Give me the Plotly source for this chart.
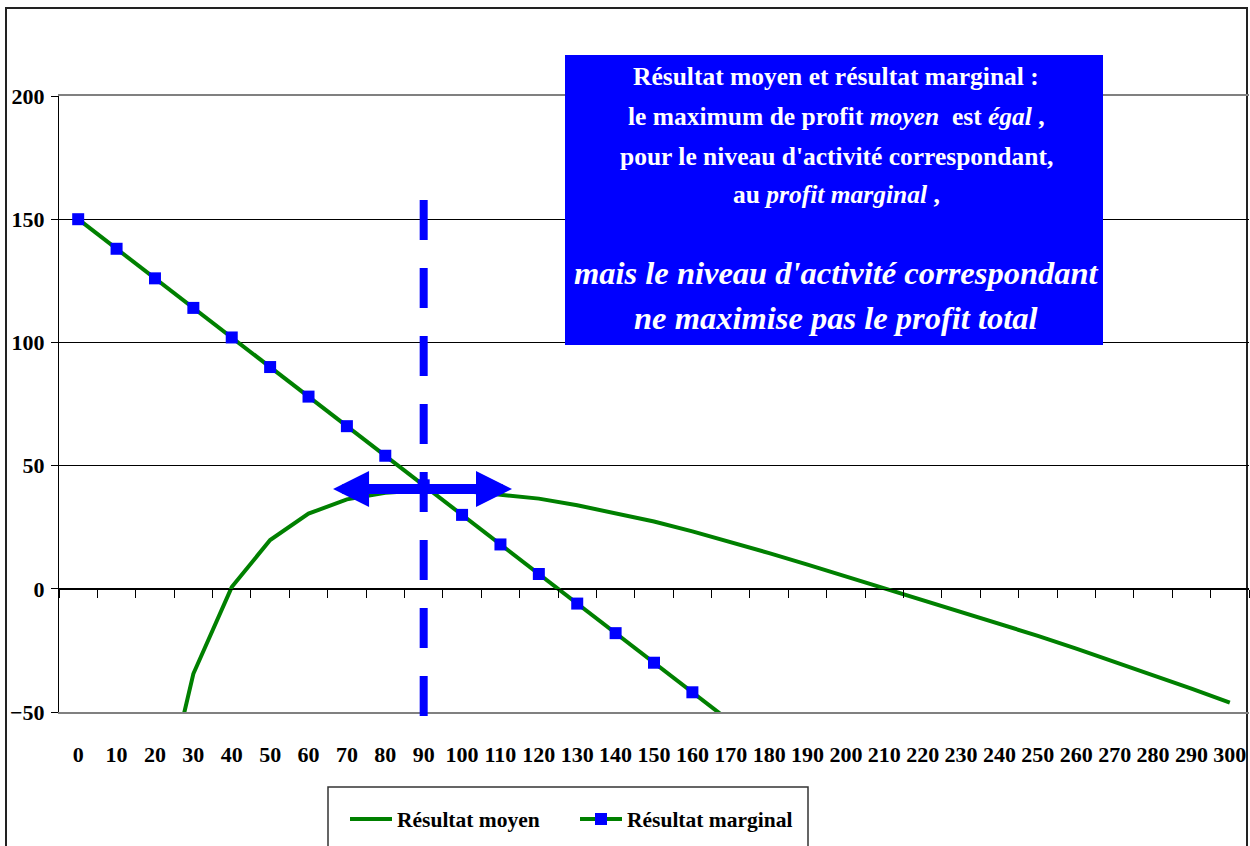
import plotly.graph_objects as go

# ---------------- data ----------------
activity = list(range(0, 310, 10))
tick_labels = [str(v) for v in activity]

avg_x = list(range(20, 310, 10))
avg_vals = [-101, -34.5, 0.7, 19.8, 30.5, 36.3, 39, 40, 39.8, 38.4,
            36.6, 33.9, 30.8, 27.3, 23.3, 19.0, 14.5, 9.8, 5.0, 0.2,
            -4.5, -9.2, -14.1, -19.1, -24.3, -29.6, -35, -40.5, -46.2]

marg_x = list(range(0, 180, 10))
marg_vals = [150, 138, 126, 114, 102, 90, 78, 66, 54, 42,
             30, 18, 6, -6, -18, -30, -42, -54]

y_ticks = [-50, 0, 50, 100, 150, 200]
optimum_q = 90
arrow_span = (66, 113)
arrow_level = 40.5

# ---------------- geometry helpers (pixels -> paper) ----------------
W, H = 1250, 846
PL, PR, PT, PB = 59, 1249, 96, 712


def px(x):
    return (x - PL) / (PR - PL)


def py(y):
    return (PB - y) / (PB - PT)


FONT = "Liberation Serif"
GREEN = "#008000"
BLUE = "#0000ff"

fig = go.Figure()
fig.add_trace(go.Scatter(
    x=avg_x, y=avg_vals, mode="lines", name="Résultat moyen",
    line=dict(color=GREEN, width=4),
))
fig.add_trace(go.Scatter(
    x=marg_x, y=marg_vals, mode="lines+markers", name="Résultat marginal",
    line=dict(color=GREEN, width=4),
    marker=dict(symbol="square", size=12, color=BLUE, line=dict(width=0)),
    xaxis="x2",
))

boundaries = [v - 5 for v in activity] + [activity[-1] + 5]

fig.update_layout(
    width=W, height=H,
    margin=dict(l=PL, r=W - PR, t=PT, b=H - PB, autoexpand=False),
    paper_bgcolor="white", plot_bgcolor="white",
    showlegend=True,
    xaxis=dict(
        range=[-5, 305], tickvals=activity, ticktext=tick_labels,
        ticks="", showline=True, mirror=True, linecolor="#808080", linewidth=1.5,
        showgrid=False, zeroline=False,
        tickfont=dict(family=FONT, size=22, color="black", weight="bold"),
        ticklabelstandoff=22, automargin=False,
    ),
    xaxis2=dict(
        overlaying="x", anchor="free", position=0.2, side="bottom",
        range=[-5, 305], tickvals=boundaries, ticks="outside", ticklen=8,
        tickcolor="black", tickwidth=1, showticklabels=False,
        showline=True, linecolor="black", linewidth=1,
        showgrid=False, zeroline=False, automargin=False,
    ),
    yaxis=dict(
        range=[-50, 200], tickvals=y_ticks, ticks="outside", ticklen=7,
        tickcolor="black", showline=True, linecolor="black", linewidth=1,
        showgrid=True, gridcolor="black", gridwidth=1, zeroline=False,
        tickfont=dict(family=FONT, size=22, color="black", weight="bold"),
        ticklabelstandoff=2, automargin=False,
    ),
    legend=dict(
        orientation="h", x=px(345), y=py(819), xanchor="left", yanchor="middle",
        font=dict(family=FONT, size=21.5, color="black", weight="bold"),
        bgcolor="rgba(0,0,0,0)", borderwidth=0, itemwidth=42,
        entrywidth=173, entrywidthmode="pixels", traceorder="normal",
    ),
)

shapes = [
    # outer chart frame
    dict(type="rect", xref="paper", yref="paper", x0=px(6), x1=px(1247),
         y0=py(8), y1=py(900), line=dict(color="#222222", width=2), layer="below"),
    # legend frame
    dict(type="rect", xref="paper", yref="paper", x0=px(328), x1=px(808),
         y0=py(787), y1=py(900), line=dict(color="#333333", width=1.5)),
    # blue text box
    dict(type="rect", xref="paper", yref="paper", x0=px(565), x1=px(1103),
         y0=py(345), y1=py(55), fillcolor=BLUE, line=dict(width=0)),
    # dashed vertical line at optimum
    dict(type="line", xref="x", yref="paper", x0=optimum_q, x1=optimum_q,
         y0=py(716), y1=py(197), line=dict(color=BLUE, width=8, dash="40px,28px")),
]
fig.update_layout(shapes=shapes)

cx = px(836)
txt = [
    ("Résultat moyen et résultat marginal :", 77, 25.5),
    ("le maximum de profit <i>moyen</i>  est <i>égal</i> ,", 117, 25.5),
    ("pour le niveau d'activité correspondant,", 156, 25.5),
    ("au <i>profit marginal</i> ,", 194, 25.5),
    ("<i>mais le niveau d'activité correspondant</i>", 273, 32.5),
    ("<i>ne maximise pas le profit total</i>", 318, 32.5),
]
annotations = []
for t, yy, sz in txt:
    annotations.append(dict(
        text=t, xref="paper", yref="paper", x=cx, y=py(yy),
        xanchor="center", yanchor="middle", showarrow=False,
        font=dict(family=FONT, size=sz, color="white", weight="bold"),
    ))

# double-headed arrow
annotations.append(dict(
    text="", xref="x", yref="y", axref="x", ayref="y",
    x=arrow_span[1], y=arrow_level, ax=arrow_span[0], ay=arrow_level,
    showarrow=True, arrowhead=2, startarrowhead=2, arrowside="end+start",
    arrowsize=0.72, startarrowsize=0.72, arrowwidth=10, arrowcolor=BLUE,
    standoff=0, startstandoff=0,
))
fig.update_layout(annotations=annotations)

fig.write_html("out.html")
